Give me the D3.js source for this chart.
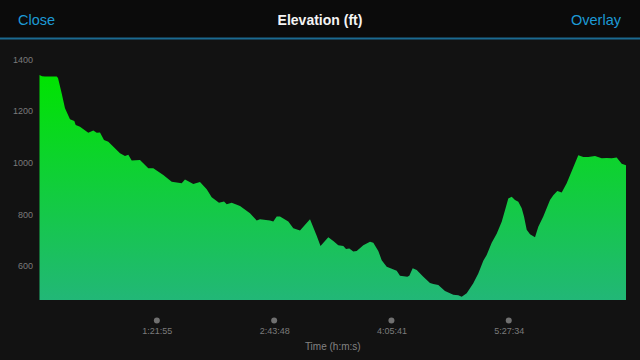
<!DOCTYPE html>
<html>
<head>
<meta charset="utf-8">
<script src="https://cdn.jsdelivr.net/npm/d3@7"></script>
<style>
  html, body { margin: 0; padding: 0; background: #121212; }
  svg { display: block; }
</style>
</head>
<body>
<svg id="chart" width="640" height="360"></svg>
<script>
// ---- data ----
const timeSec = [0, 105, 230, 720, 775, 930, 1068, 1277, 1458, 1516, 1696, 2044, 2253, 2396, 2534, 2701, 2882, 3372, 3581, 3719, 3862, 4209, 4557, 4766, 5185, 5537, 5956, 6094, 6442, 6722, 7003, 7212, 7518, 7728, 7841, 8050, 8398, 8816, 9097, 9235, 9654, 9792, 9935, 10073, 10421, 10630, 10911, 11330, 11610, 11770, 12096, 12306, 12515, 12724, 12838, 12976, 13143, 13286, 13562, 13843, 13981, 14190, 14333, 14542, 14961, 15099, 15405, 15489, 15631, 15799, 16075, 16356, 16494, 16703, 16984, 17331, 17541, 17683, 17893, 18169, 18378, 18588, 18730, 18940, 19149, 19359, 19497, 19635, 19778, 19916, 20054, 20197, 20293, 20406, 20544, 20754, 20892, 21101, 21382, 21520, 21688, 21872, 22081, 22567, 22777, 22986, 23266, 23547, 23756, 23966, 24175, 24385, 24565];
const elevationFt = [1339, 1334, 1333, 1333, 1328, 1268, 1210, 1168, 1161, 1146, 1139, 1116, 1124, 1116, 1117, 1088, 1081, 1036, 1026, 1030, 1008, 1010, 978, 978, 952, 926, 920, 935, 917, 925, 897, 866, 845, 849, 839, 845, 832, 804, 776, 781, 776, 772, 791, 791, 772, 746, 737, 781, 717, 677, 711, 696, 680, 677, 665, 667, 656, 658, 680, 694, 690, 658, 622, 597, 581, 562, 558, 562, 591, 584, 558, 534, 530, 526, 503, 488, 486, 481, 494, 533, 571, 620, 642, 690, 725, 771, 816, 861, 868, 855, 848, 823, 791, 740, 723, 711, 752, 791, 855, 874, 890, 884, 920, 1028, 1022, 1022, 1026, 1017, 1018, 1017, 1020, 996, 990];
const yTicks = [600, 800, 1000, 1200, 1400];
const xTicks = [4915, 9828, 14741, 19654];
const xTickLabels = ["1:21:55", "2:43:48", "4:05:41", "5:27:34"];
const titleText = "Elevation (ft)";
const leftButton = "Close";
const rightButton = "Overlay";
const xAxisTitle = "Time (h:m:s)";

const data = timeSec.map((t, i) => ({ t, v: elevationFt[i] }));

const svg = d3.select("#chart");
const W = 640, H = 360;
const font = "'Liberation Sans', Arial, Helvetica, sans-serif";

svg.append("rect").attr("width", W).attr("height", H).attr("fill", "#121212");

// header
svg.append("rect").attr("x", 0).attr("y", 0).attr("width", W).attr("height", 38).attr("fill", "#0b0b0b");
svg.append("rect").attr("x", 0).attr("y", 37.5).attr("width", W).attr("height", 2).attr("fill", "#1b6a91");
svg.append("text").attr("x", 18).attr("y", 25).attr("font-family", font).attr("font-size", 14.5)
  .attr("fill", "#1d9ad6").text(leftButton);
svg.append("text").attr("x", 621).attr("y", 25).attr("text-anchor", "end").attr("font-family", font).attr("font-size", 14.5)
  .attr("fill", "#1d9ad6").text(rightButton);
svg.append("text").attr("x", 320).attr("y", 25).attr("text-anchor", "middle").attr("font-family", font)
  .attr("font-size", 14).attr("font-weight", "bold").attr("fill", "#f4f4f4").text(titleText);

// scales
const x = d3.scaleLinear().domain([0, 24565]).range([39.5, 626]);
const y = d3.scaleLinear().domain([468, 1400]).range([300, 59.3]);

// gradient
const defs = svg.append("defs");
const grad = defs.append("linearGradient").attr("id", "elevGrad")
  .attr("gradientUnits", "userSpaceOnUse")
  .attr("x1", 0).attr("x2", 0).attr("y1", y(1340)).attr("y2", y(468));
grad.append("stop").attr("offset", "0%").attr("stop-color", "#00e400");
grad.append("stop").attr("offset", "100%").attr("stop-color", "#22b777");

const area = d3.area()
  .x(d => x(d.t))
  .y0(y(468))
  .y1(d => y(d.v))
  .curve(d3.curveLinear);

svg.append("path").datum(data).attr("d", area).attr("fill", "url(#elevGrad)");

// y axis
const yAxis = d3.axisLeft(y).tickValues(yTicks).tickSize(0).tickPadding(0).tickFormat(d3.format("d"));
const gy = svg.append("g").attr("transform", "translate(33,0)").call(yAxis);
gy.select(".domain").remove();
gy.selectAll("text").attr("font-family", font).attr("font-size", 9).attr("fill", "#7b7b7b");

// x axis
const xAxis = d3.axisBottom(x).tickValues(xTicks).tickSize(0).tickPadding(0)
  .tickFormat((d, i) => xTickLabels[i]);
const gx = svg.append("g").attr("transform", "translate(0,327.5)").call(xAxis);
gx.select(".domain").remove();
gx.selectAll("text").attr("font-family", font).attr("font-size", 9).attr("fill", "#7b7b7b");

svg.append("g").selectAll("circle").data(xTicks).join("circle")
  .attr("cx", d => x(d)).attr("cy", 320.5).attr("r", 3).attr("fill", "#707070");

svg.append("text").attr("x", (x.range()[0] + x.range()[1]) / 2).attr("y", 349.5)
  .attr("text-anchor", "middle").attr("font-family", font).attr("font-size", 10)
  .attr("fill", "#828282").text(xAxisTitle);
</script>
</body>
</html>
